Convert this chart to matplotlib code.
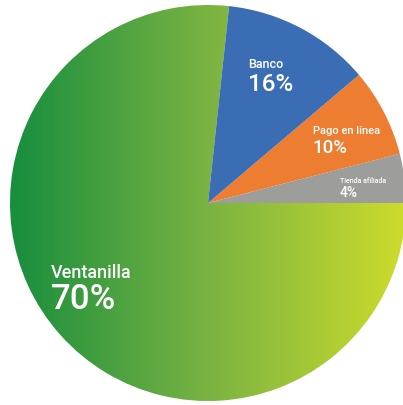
import numpy as np
import matplotlib
matplotlib.use("Agg")
import matplotlib.pyplot as plt
from matplotlib.colors import LinearSegmentedColormap

# slices in drawing order (counter-clockwise from 3 o'clock)
names = ["Tienda afiliada", "Pago en línea", "Banco", "Ventanilla"]
pct_labels = [4, 10, 16, 70]
# share of the circle each wedge actually covers in the picture
drawn_sizes = [4.0, 7.2, 12.1, 76.7]
colors = ["#9d9d9c", "#ec7d31", "#3b6db5", "none"]

plt.rcParams["font.family"] = ["Roboto", "DejaVu Sans"]

fig = plt.figure(figsize=(4.03, 4.05), dpi=100)
ax = fig.add_axes([0, 0, 1, 1])

cx, cy, r = 208, 202, 198
wedges, _ = ax.pie(drawn_sizes, colors=colors, startangle=0, counterclock=True,
                   center=(cx, cy), radius=r, frame=True,
                   wedgeprops=dict(linewidth=0))

# green gradient for Ventanilla, clipped to its wedge
green = LinearSegmentedColormap.from_list("g", ["#178e3e", "#7ab342", "#cddc2c"])
grad = np.linspace(0, 1, 256).reshape(1, -1)
im = ax.imshow(grad, cmap=green, extent=(cx - r, cx + r, cy - r, cy + r),
               aspect="auto", zorder=0)
im.set_clip_path(wedges[3])

ax.set_xlim(0, 403)
ax.set_ylim(0, 405)
ax.set_aspect("equal")
ax.axis("off")

H = 405
# (x, name baseline, pct baseline, name size, pct size) in pixel coords
label_pos = {
    "Banco": (248, 68, 91, 9, 17.5),
    "Pago en línea": (313, 134, 153, 8, 13.5),
    "Tienda afiliada": (340, 183, 197, 5, 10),
    "Ventanilla": (51, 278, 309, 13, 25),
}
for name, pct in zip(names, pct_labels):
    x, y1, y2, s1, s2 = label_pos[name]
    ax.text(x, H - y1, name, color="white", fontsize=s1, fontweight="medium",
            va="baseline", ha="left")
    ax.text(x, H - y2, f"{pct}%", color="white", fontsize=s2, fontweight="medium",
            va="baseline", ha="left")

fig.savefig("out.png", dpi=100, facecolor="white")
